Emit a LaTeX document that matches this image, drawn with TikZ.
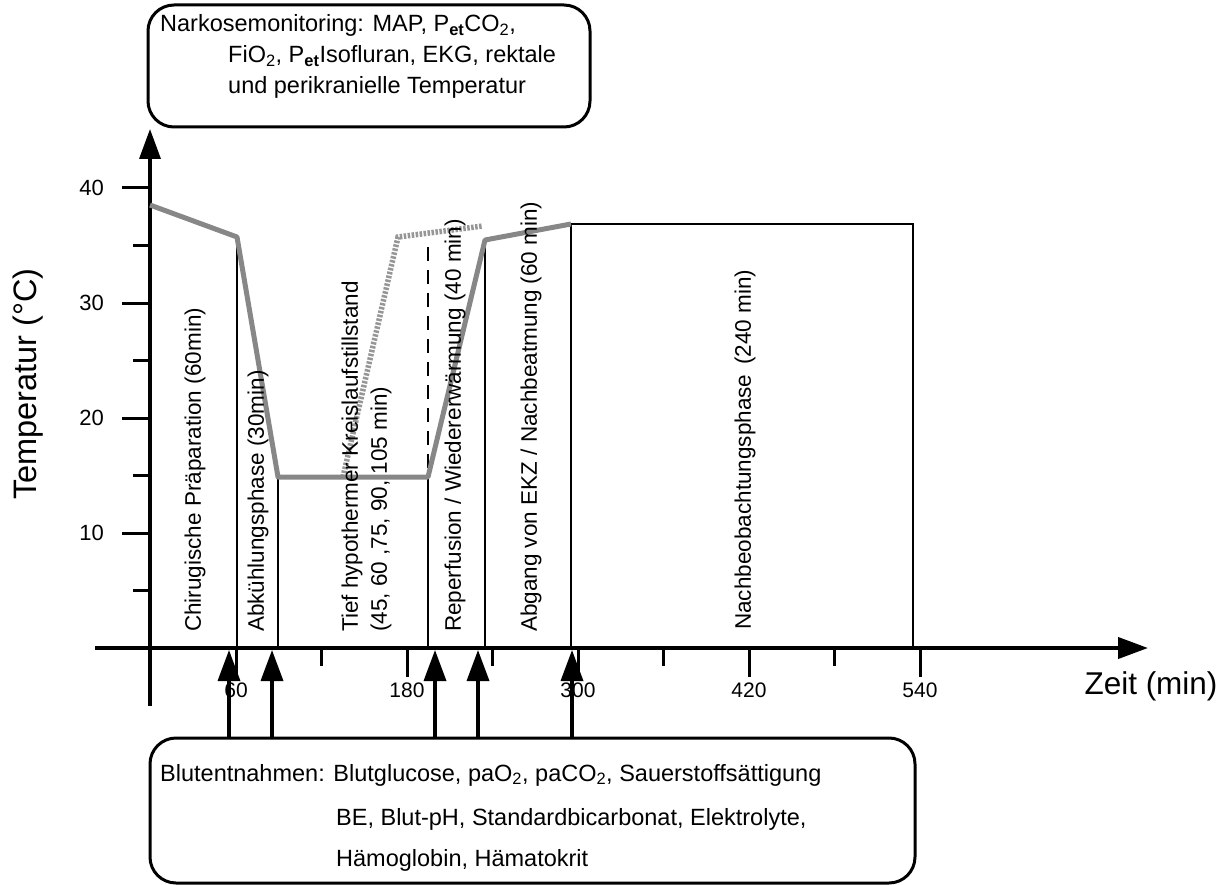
\documentclass[tikz,border=0pt]{standalone}
\usepackage{fontspec}
\setmainfont{Liberation Sans}
\usetikzlibrary{arrows.meta}
\definecolor{tempgray}{RGB}{135,135,135}
\definecolor{altgray}{RGB}{150,150,150}
\newcommand\fsz[1]{\fontsize{#1}{#1}\selectfont}
\newcommand\sub[1]{\textsubscript{#1}}
\begin{document}
\begin{tikzpicture}[x=1pt,y=-1pt,
  axisline/.style={line width=4pt},
  bigtip/.style={-{Triangle[length=30pt,width=21pt]}},
  phaseline/.style={line width=2pt},
  tickmark/.style={line width=3pt},
  curve/.style={line width=5pt,draw=tempgray,line join=round},
  altcurve/.style={line width=5.5pt,draw=altgray,dash pattern=on 2.5pt off 1.5pt},
  infobox/.style={draw,line width=3pt,rounded corners=26pt,inner sep=0pt},
  phaselabel/.style={rotate=90,anchor=west,inner sep=0pt,font=\fsz{22.5}},
  ticklabel/.style={inner sep=0pt,font=\fsz{21}},
  boxtext/.style={anchor=base west,inner sep=0pt,font=\fsz{23.5}}]
\useasboundingbox (0,0) rectangle (1228,885);

% information boxes
\node[infobox,minimum width=442pt,minimum height=122pt] (monbox) at (369,66) {};
\node[infobox,minimum width=765pt,minimum height=145pt] (bloodbox) at (532.5,810.5) {};

\node[boxtext] (mon1) at (160,32) {Narkosemonitoring: MAP, P\sub{\textbf{et}}CO\sub{2},};
\node[boxtext] (mon2) at (228,63) {FiO\sub{2}, P\sub{\textbf{et}}Isofluran, EKG, rektale};
\node[boxtext] (mon3) at (228,94) {und perikranielle Temperatur};

\node[boxtext] (blood1) at (160,781) {Blutentnahmen: Blutglucose, paO\sub{2}, paCO\sub{2}, Sauerstoffsättigung};
\node[boxtext] (blood2) at (336,825) {BE, Blut-pH, Standardbicarbonat, Elektrolyte,};
\node[boxtext] (blood3) at (336,866) {Hämoglobin, Hämatokrit};

% axes
\coordinate (yfoot) at (150,706);
\coordinate (ytip) at (150,129);
\coordinate (xfoot) at (95,648);
\coordinate (xtip) at (1148,648);
\draw[axisline,line width=3.5pt,bigtip] (yfoot) -- (ytip);
\draw[axisline,bigtip] (xfoot) -- (xtip);

% temperature ticks
\foreach \t in {40,30,20,10}{
  \coordinate (yt\t) at (150,{648-11.5*\t});
  \draw[tickmark] (yt\t) -- ++(-28,0);
  \node[ticklabel,font=\fsz{22},anchor=east] (ylab\t) at (104,{648-11.5*\t}) {\t};
}
\foreach \t in {35,25,15,5}{
  \coordinate (yt\t) at (150,{648-11.5*\t});
  \draw[tickmark] (yt\t) -- ++(-17,0);
}

% time ticks
\foreach \m in {60,180,300,420,540}{
  \coordinate (xt\m) at ({150.5+1.425*\m},648);
  \draw[tickmark] (xt\m) -- ++(0,29);
  \node[ticklabel] (xlab\m) at ([yshift=-42pt]xt\m) {\m};
}
\foreach \m in {120,240,360,480}{
  \coordinate (xt\m) at ({150.5+1.425*\m},648);
  \draw[tickmark,line width=2.5pt] (xt\m) -- ++(0,18);
}

\node[font=\fsz{32.5},inner sep=0pt,rotate=90] (ylabel) at (28,384) {Temperatur (°C)};
\node[font=\fsz{31.5},inner sep=0pt] (xlabel) at (1151,686) {Zeit (min)};

% temperature course
\coordinate (c0) at (150,205);
\coordinate (c1) at (237,237);
\coordinate (c2) at (278,477);
\coordinate (c3) at (428,477);
\coordinate (c4) at (485,240);
\coordinate (c5) at (571,224);
\coordinate (d0) at (343,477);
\coordinate (d1) at (398,237);
\coordinate (d2) at (483,226);

% phase boundaries
\draw[phaseline] (c1) -- (c1 |- xfoot);
\draw[phaseline] (c2) -- (c2 |- xfoot);
\draw[phaseline] (c3) -- (c3 |- xfoot);
\draw[phaseline,dash pattern=on 14pt off 9pt] (428,247) -- (c3);
\draw[phaseline] (c4) -- (c4 |- xfoot);
\coordinate (endbox) at (913,224);
\draw[phaseline] (c5 |- xfoot) -- (c5) -- (endbox) -- (endbox |- xfoot);

\draw[altcurve] (d0) -- (d1) -- (d2);
\draw[curve] (c0) -- (c1) -- (c2) -- (c3) -- (c4) -- (c5);

% phase labels
\node[phaselabel] (ph1) at (195,632) {Chirugische Präparation (60min)};
\node[phaselabel] (ph2) at (258,632) {Abkühlungsphase (30min)};
\node[phaselabel] (ph3a) at (352,632) {Tief hypothermer Kreislaufstillstand};
\node[phaselabel] (ph3b) at (381,632) {(45, 60 ,75, 90, 105 min)};
\node[phaselabel] (ph4) at (455,632) {Reperfusion / Wiedererwärmung (40 min)};
\node[phaselabel] (ph5) at (531,632) {Abgang von EKZ / Nachbeatmung (60 min)};
\node[phaselabel] (ph6) at (745,630) {Nachbeobachtungsphase\, (240 min)};

% blood sampling times
\foreach \i/\x in {1/229,2/272,3/435,4/478,5/572}{
  \coordinate (s\i) at (\x,650);
  \draw[line width=3.5pt,-{Triangle[length=31pt,width=22pt]}] (bloodbox.north -| s\i) -- (s\i);
}
\end{tikzpicture}
\end{document}
